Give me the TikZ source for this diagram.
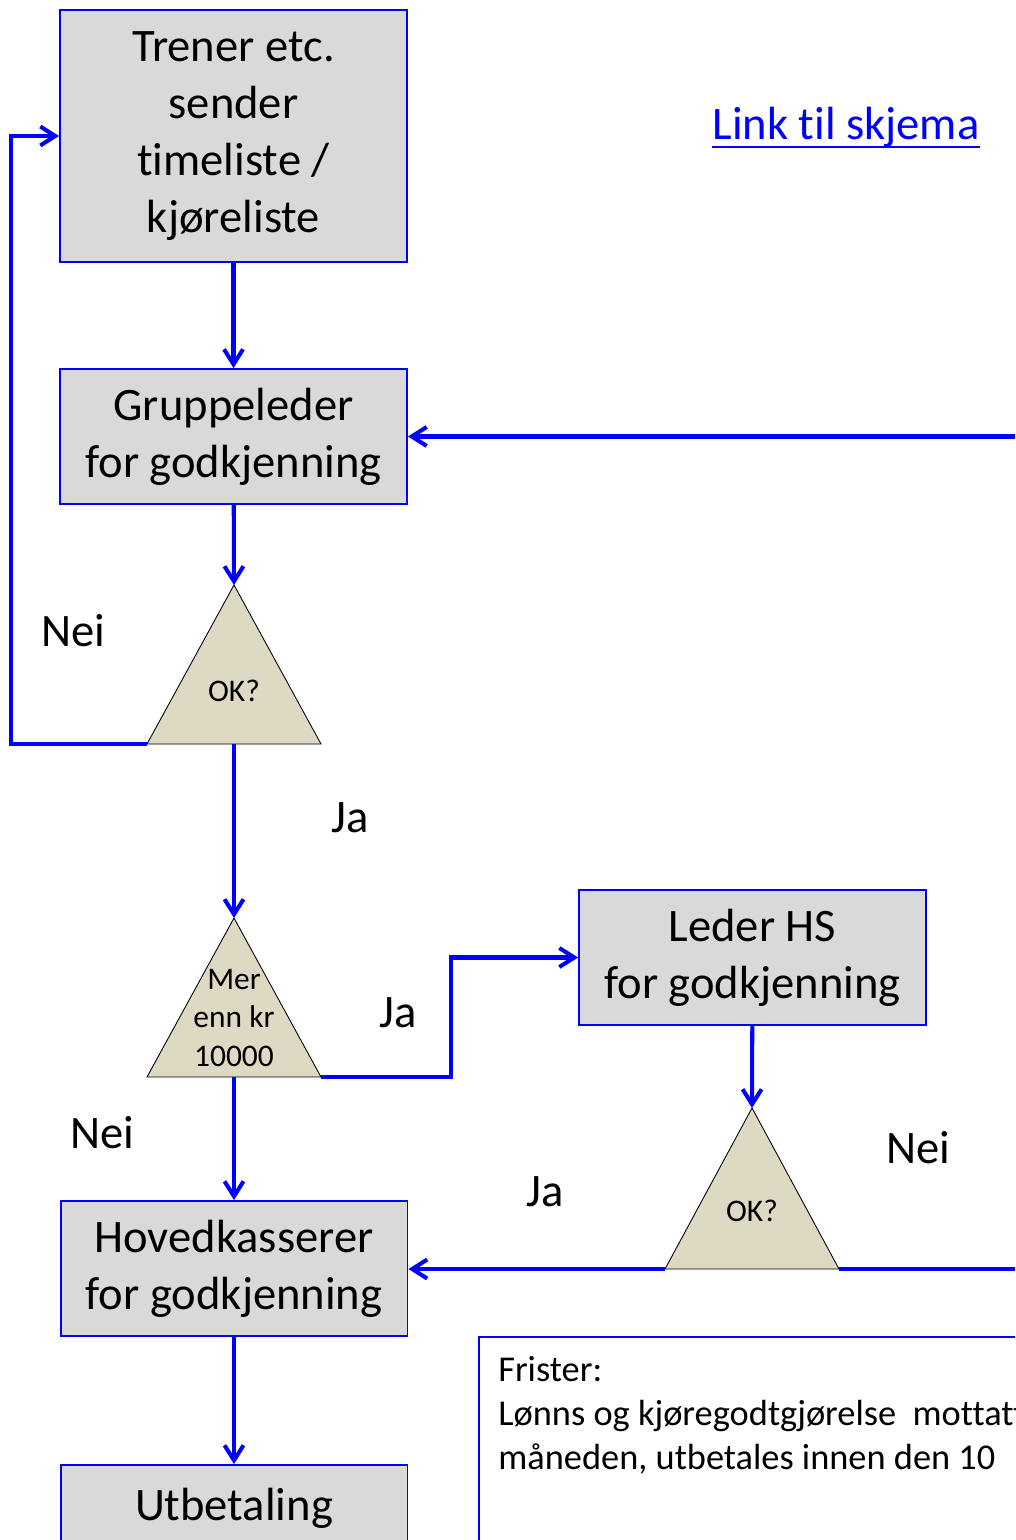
\documentclass[tikz,border=0pt]{standalone}
\usepackage{fontspec}
\setmainfont{Carlito}[Ligatures=NoCommon]
\usetikzlibrary{arrows.meta, positioning}

\definecolor{boxgray}{HTML}{D9D9D9}
\definecolor{tritan}{HTML}{DDD9C3}
\definecolor{flowblue}{HTML}{0000FF}

\begin{document}
\begin{tikzpicture}[
    x=0.02cm, y=-0.02cm,
    stepbox/.style={rectangle, draw=flowblue, line width=1.1pt, fill=boxgray, minimum width=6.94cm, minimum height=2.7cm, align=center, inner sep=0pt, font=\fontsize{26.5}{32.6}\selectfont},
    decision/.style={draw=black, line width=0.5pt, fill=tritan},
    dtext/.style={align=center, inner sep=0pt, font=\fontsize{17.9}{21.8}\selectfont},
    answer/.style={inner sep=0pt, font=\fontsize{26.5}{32.6}\selectfont},
    flow/.style={draw=flowblue, line width=2.3pt, -{Straight Barb[length=3mm, width=3.8mm]}},
    plain/.style={draw=flowblue, line width=2.3pt}
]
\path[use as bounding box, clip] (0,0) rectangle (1015,1540);
\fill[white] (0,0) rectangle (1015,1540);

% Boxes, left column
\node[stepbox, minimum height=5.04cm] (trener) at (233.5,136) {Trener etc.\\sender\\timeliste /\\kjøreliste};
\node[stepbox] (gruppe) at (233.5,436.5) {Gruppeleder\\for godkjenning};
\node[stepbox] (hoved) at (234,1268.5) {Hovedkasserer\\for godkjenning};
\node[stepbox] (utbet) at (234,1532.5) {Utbetaling\\ };

% Box, right column
\node[stepbox] (leder) at (752.5,957.5) {Leder HS\\for godkjenning};

% Decisions
\coordinate (ok1l) at (147,744);
\coordinate (ok1t) at (234,585);
\coordinate (ok1r) at (321,744);
\coordinate (ok1b) at (234,744);
\draw[decision] (ok1l) -- (ok1t) -- (ok1r) -- cycle;
\node[dtext] (ok1) at (234,691) {OK?};

\coordinate (merl) at (147,1077);
\coordinate (mert) at (234,918);
\coordinate (merr) at (321,1077);
\coordinate (merb) at (234,1077);
\draw[decision] (merl) -- (mert) -- (merr) -- cycle;
\node[dtext] (mer) at (234,1018) {Mer\\enn kr\\10000};

\coordinate (ok2l) at (665,1269);
\coordinate (ok2t) at (752,1108);
\coordinate (ok2r) at (839,1269);
\draw[decision] (ok2l) -- (ok2t) -- (ok2r) -- cycle;
\node[dtext] (ok2) at (752,1211) {OK?};

% Connectors
\draw[flow] (trener) -- (gruppe);
\draw[flow] (gruppe) -- (ok1t);
\draw[flow] (ok1l) -- ++(-136,0) |- (trener.west);
\draw[flow] (ok1b) -- (mert);
\draw[flow] (merr) -- ++(130,0) |- (leder.west);
\draw[flow] (merb) -- (hoved);
\draw[flow] (leder) -- (ok2t);
\draw[flow] (ok2l) -- (ok2l -| hoved.east);
\draw[flow] (ok2r) -- ++(220,0) |- (gruppe.east);
\draw[flow] (hoved) -- (utbet);

% Answers
\node[answer] (nei1) at (73,631) {Nei};
\node[answer] (ja1) at (350,818) {Ja};
\node[answer] (ja2) at (398,1013) {Ja};
\node[answer] (nei2) at (102,1133) {Nei};
\node[answer] (ja3) at (545,1192) {Ja};
\node[answer] (nei3) at (918,1148) {Nei};

% Link
\node[answer, text=flowblue, anchor=base] (link) at (846,140) {Link til skjema};
\draw[plain, line width=1.5pt] ([yshift=-0.14cm]link.base west) -- ([yshift=-0.14cm]link.base east);

% Deadlines
\node[rectangle, draw=flowblue, line width=1.1pt, anchor=north west, minimum width=12cm, minimum height=6cm] (frister) at (478,1336) {};
\node[anchor=north west, inner sep=0pt, align=left, font=\fontsize{20.7}{25.2}\selectfont] (fristtxt) at (498,1356) {Frister:\\Lønns og kjøregodtgjørelse\ \ mottatt\\måneden, utbetales innen den 10};

\end{tikzpicture}
\end{document}
